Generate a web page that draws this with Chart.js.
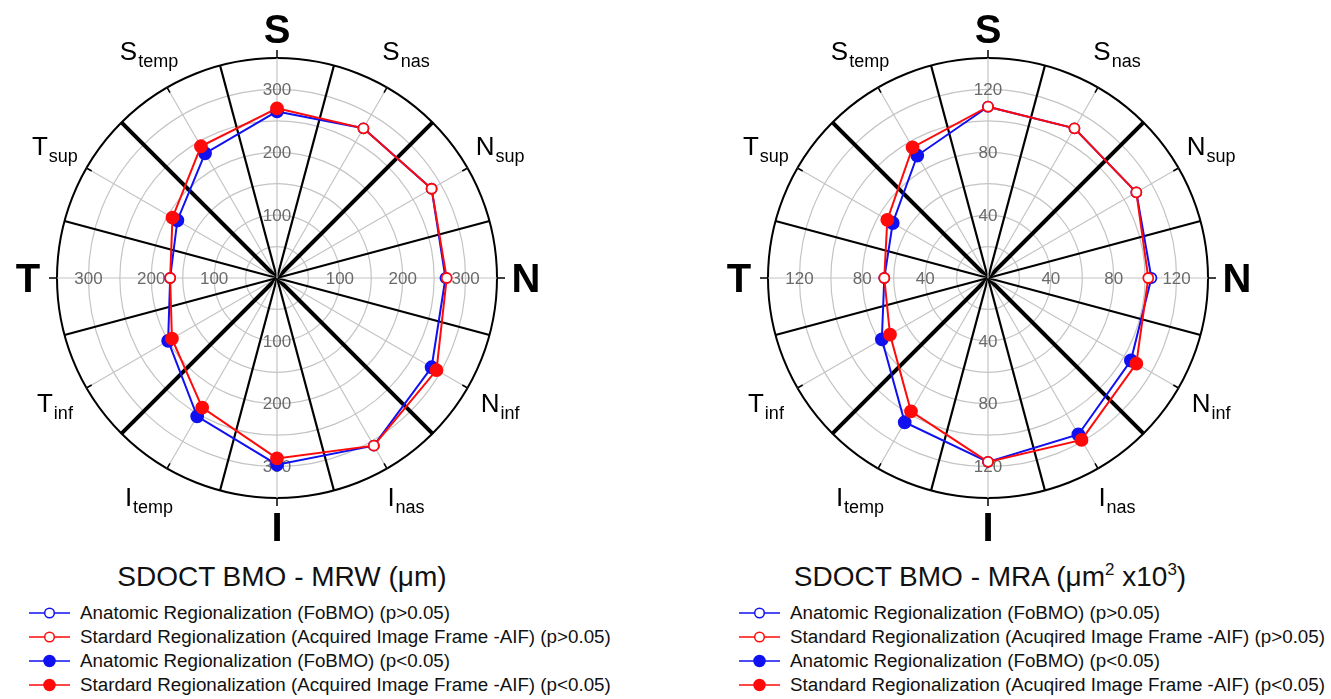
<!DOCTYPE html>
<html>
<head>
<meta charset="utf-8">
<script src="https://cdn.jsdelivr.net/npm/chart.js@4.4.0/dist/chart.umd.min.js"></script>
<style>
  body { margin: 0; background: #fff; font-family: "Liberation Sans", Arial, sans-serif; }
  #page { position: relative; width: 1331px; height: 699px; overflow: hidden; }
  canvas { position: absolute; top: 8px; }
  .title { position: absolute; top: 561px; font-size: 28px; line-height: 32px; text-align: center; color: #111; }
  .title sup { font-size: 17px; vertical-align: 11px; line-height: 0; }
  .legend { position: absolute; top: 601px; font-size: 18.8px; color: #111; }
  .legend div { height: 24px; line-height: 24px; white-space: nowrap; }
  .legend svg { vertical-align: middle; margin-right: 10px; position: relative; top: -1px; }
</style>
</head>
<body>
<div id="page">
  <canvas id="mrw" width="540" height="540" style="left:7px"></canvas>
  <canvas id="mra" width="540" height="540" style="left:718px"></canvas>
  <div class="title" style="left:0;width:564px">SDOCT BMO - MRW (μm)</div>
  <div class="title" style="left:700px;width:580px">SDOCT BMO - MRA (μm<sup>2</sup> x10<sup>3</sup>)</div>
  <div class="legend" id="legMRW" style="left:29px"></div>
  <div class="legend" id="legMRA" style="left:739px"></div>
</div>
<script>
// ================= Data =================
// regions clockwise from the top (S = superior)
const categories = ['S', 'S_nas', 'N_sup', 'N', 'N_inf', 'I_nas', 'I', 'I_temp', 'T_inf', 'T', 'T_sup', 'S_temp'];

// MRW (um)
const mrwFoBMO = [265, 275, 284, 268, 284, 308, 297, 254, 200, 170, 183, 229];
const mrwAIF   = [270, 275, 284, 270, 293, 308, 287, 238, 193, 170, 192, 242];
const mrwSig   = [1, 0, 0, 0, 1, 0, 1, 1, 1, 0, 1, 1];   // 1 = p<0.05
const mrwTicks = [100, 200, 300];

// MRA (um^2 x10^3)
const mraFoBMO = [109, 110, 109, 104, 105, 115, 117, 106, 78, 66, 70, 90];
const mraAIF   = [109, 110, 109, 102, 109, 119, 117, 98, 72, 66, 74, 96];
const mraSig   = [0, 0, 0, 0, 1, 1, 0, 1, 1, 0, 1, 1];
const mraTicks = [40, 80, 120];

const legMRW = [
  'Anatomic Regionalization (FoBMO) (p>0.05)',
  'Stardard Regionalization (Acquired Image Frame -AIF) (p>0.05)',
  'Anatomic Regionalization (FoBMO) (p<0.05)',
  'Stardard Regionalization (Acquired Image Frame -AIF) (p<0.05)'
];
const legMRA = [
  'Anatomic Regionalization (FoBMO) (p>0.05)',
  'Standard Regionalization (Acuqired Image Frame -AIF) (p>0.05)',
  'Anatomic Regionalization (FoBMO) (p<0.05)',
  'Standard Regionalization (Acuqired Image Frame -AIF) (p<0.05)'
];

const BLUE = '#1010f0';
const RED = '#ff0a0a';
const FONT = '"Liberation Sans", Arial, sans-serif';

// put a gap between regions so sector borders get their own angle line
const spread = arr => arr.flatMap(v => [v, null]);

// ================= Decorations =================
const decor = {
  id: 'decor',
  beforeDatasetsDraw(chart, args, opts) {
    const s = chart.scales.r;
    const ctx = chart.ctx;
    const R = s.drawingArea;
    ctx.save();
    // small ticks on the region spokes
    ctx.strokeStyle = '#000';
    ctx.lineWidth = 1.5;
    for (let i = 0; i < s._pointLabels.length; i += 2) {
      const major = i % 6 === 0;
      const a = s.getPointPosition(i, major ? R : R - 6);
      const b = s.getPointPosition(i, major ? R + 8 : R);
      ctx.beginPath(); ctx.moveTo(a.x, a.y); ctx.lineTo(b.x, b.y); ctx.stroke();
    }
    // value labels along the four main axes
    ctx.fillStyle = '#6a6a6a';
    ctx.font = '17px ' + FONT;
    ctx.textAlign = 'center';
    ctx.textBaseline = 'middle';
    [0, 6, 12, 18].forEach(i => opts.ticks.forEach(v => {
      const p = s.getPointPositionForValue(i, v);
      ctx.fillText(String(v), p.x, p.y + 1);
    }));
    ctx.restore();
  },
  afterDraw(chart) {
    const s = chart.scales.r;
    const ctx = chart.ctx;
    const R = s.drawingArea;
    ctx.save();
    ctx.fillStyle = '#000';
    ctx.textAlign = 'left';
    ctx.textBaseline = 'alphabetic';
    categories.forEach((c, k) => {
      const [main, sub] = c.split('_');
      if (!sub) {
        const p = s.getPointPosition(k * 2, R + 29);
        ctx.font = 'bold 40px ' + FONT;
        const w = ctx.measureText(main).width;
        ctx.fillText(main, p.x - w / 2, p.y + 14);
      } else {
        const p = s.getPointPosition(k * 2, R + 37);
        ctx.font = '26px ' + FONT;
        const w1 = ctx.measureText(main).width;
        ctx.font = '18px ' + FONT;
        const w2 = ctx.measureText(sub).width;
        const x0 = p.x - (w1 + w2) / 2;
        ctx.font = '26px ' + FONT;
        ctx.fillText(main, x0, p.y + 5);
        ctx.font = '18px ' + FONT;
        ctx.fillText(sub, x0 + w1 + 1, p.y + 12);
      }
    });
    ctx.restore();
  }
};

// ================= Chart =================
function makeDataset(label, values, sig, color) {
  const sigAt = c => sig[c.dataIndex / 2] === 1;
  return {
    label,
    data: spread(values),
    borderColor: color,
    borderWidth: 2,
    fill: false,
    spanGaps: true,
    pointStyle: 'circle',
    pointRadius: c => sigAt(c) ? 6 : 5,
    pointBorderWidth: 1.8,
    pointBorderColor: color,
    pointBackgroundColor: c => sigAt(c) ? color : '#fff'
  };
}

function initChart(id, fobmo, aif, sig, max, step, ticks) {
  new Chart(document.getElementById(id), {
    type: 'radar',
    data: {
      labels: spread(categories),
      datasets: [
        makeDataset('AIF', aif, sig, RED),
        makeDataset('FoBMO', fobmo, sig, BLUE)
      ]
    },
    options: {
      responsive: false,
      animation: false,
      devicePixelRatio: 1,
      layout: { padding: 50 },
      plugins: { legend: { display: false }, tooltip: { enabled: false }, decor: { ticks } },
      scales: {
        r: {
          min: 0,
          max,
          ticks: { display: false, stepSize: step },
          pointLabels: { display: false },
          grid: {
            circular: true,
            color: c => c.tick.value === max ? '#000' : '#c4c4c4',
            lineWidth: c => c.tick.value === max ? 2 : 1.2
          },
          angleLines: {
            color: c => c.index % 2 === 0 ? '#c4c4c4' : '#000',
            lineWidth: c => c.index % 2 === 0 ? 1.2 : (c.index % 6 === 3 ? 4 : 2.2)
          }
        }
      }
    },
    plugins: [decor]
  });
}

// ================= Legend =================
function marker(color, filled) {
  return `<svg width="41" height="14"><line x1="0" y1="7" x2="41" y2="7" stroke="${color}" stroke-width="1.5"/>` +
    `<circle cx="20.5" cy="7" r="${filled ? 5.5 : 4.8}" fill="${filled ? color : '#fff'}" stroke="${color}" stroke-width="1.5"/></svg>`;
}

function renderLegend(id, texts) {
  const styles = [[BLUE, false], [RED, false], [BLUE, true], [RED, true]];
  document.getElementById(id).innerHTML = texts.map((t, i) =>
    `<div>${marker(styles[i][0], styles[i][1])}${t.replace(/</g, '&lt;').replace(/>/g, '&gt;')}</div>`
  ).join('');
}

initChart('mrw', mrwFoBMO, mrwAIF, mrwSig, 350, 50, mrwTicks);
initChart('mra', mraFoBMO, mraAIF, mraSig, 140, 20, mraTicks);
renderLegend('legMRW', legMRW);
renderLegend('legMRA', legMRA);
</script>
</body>
</html>
